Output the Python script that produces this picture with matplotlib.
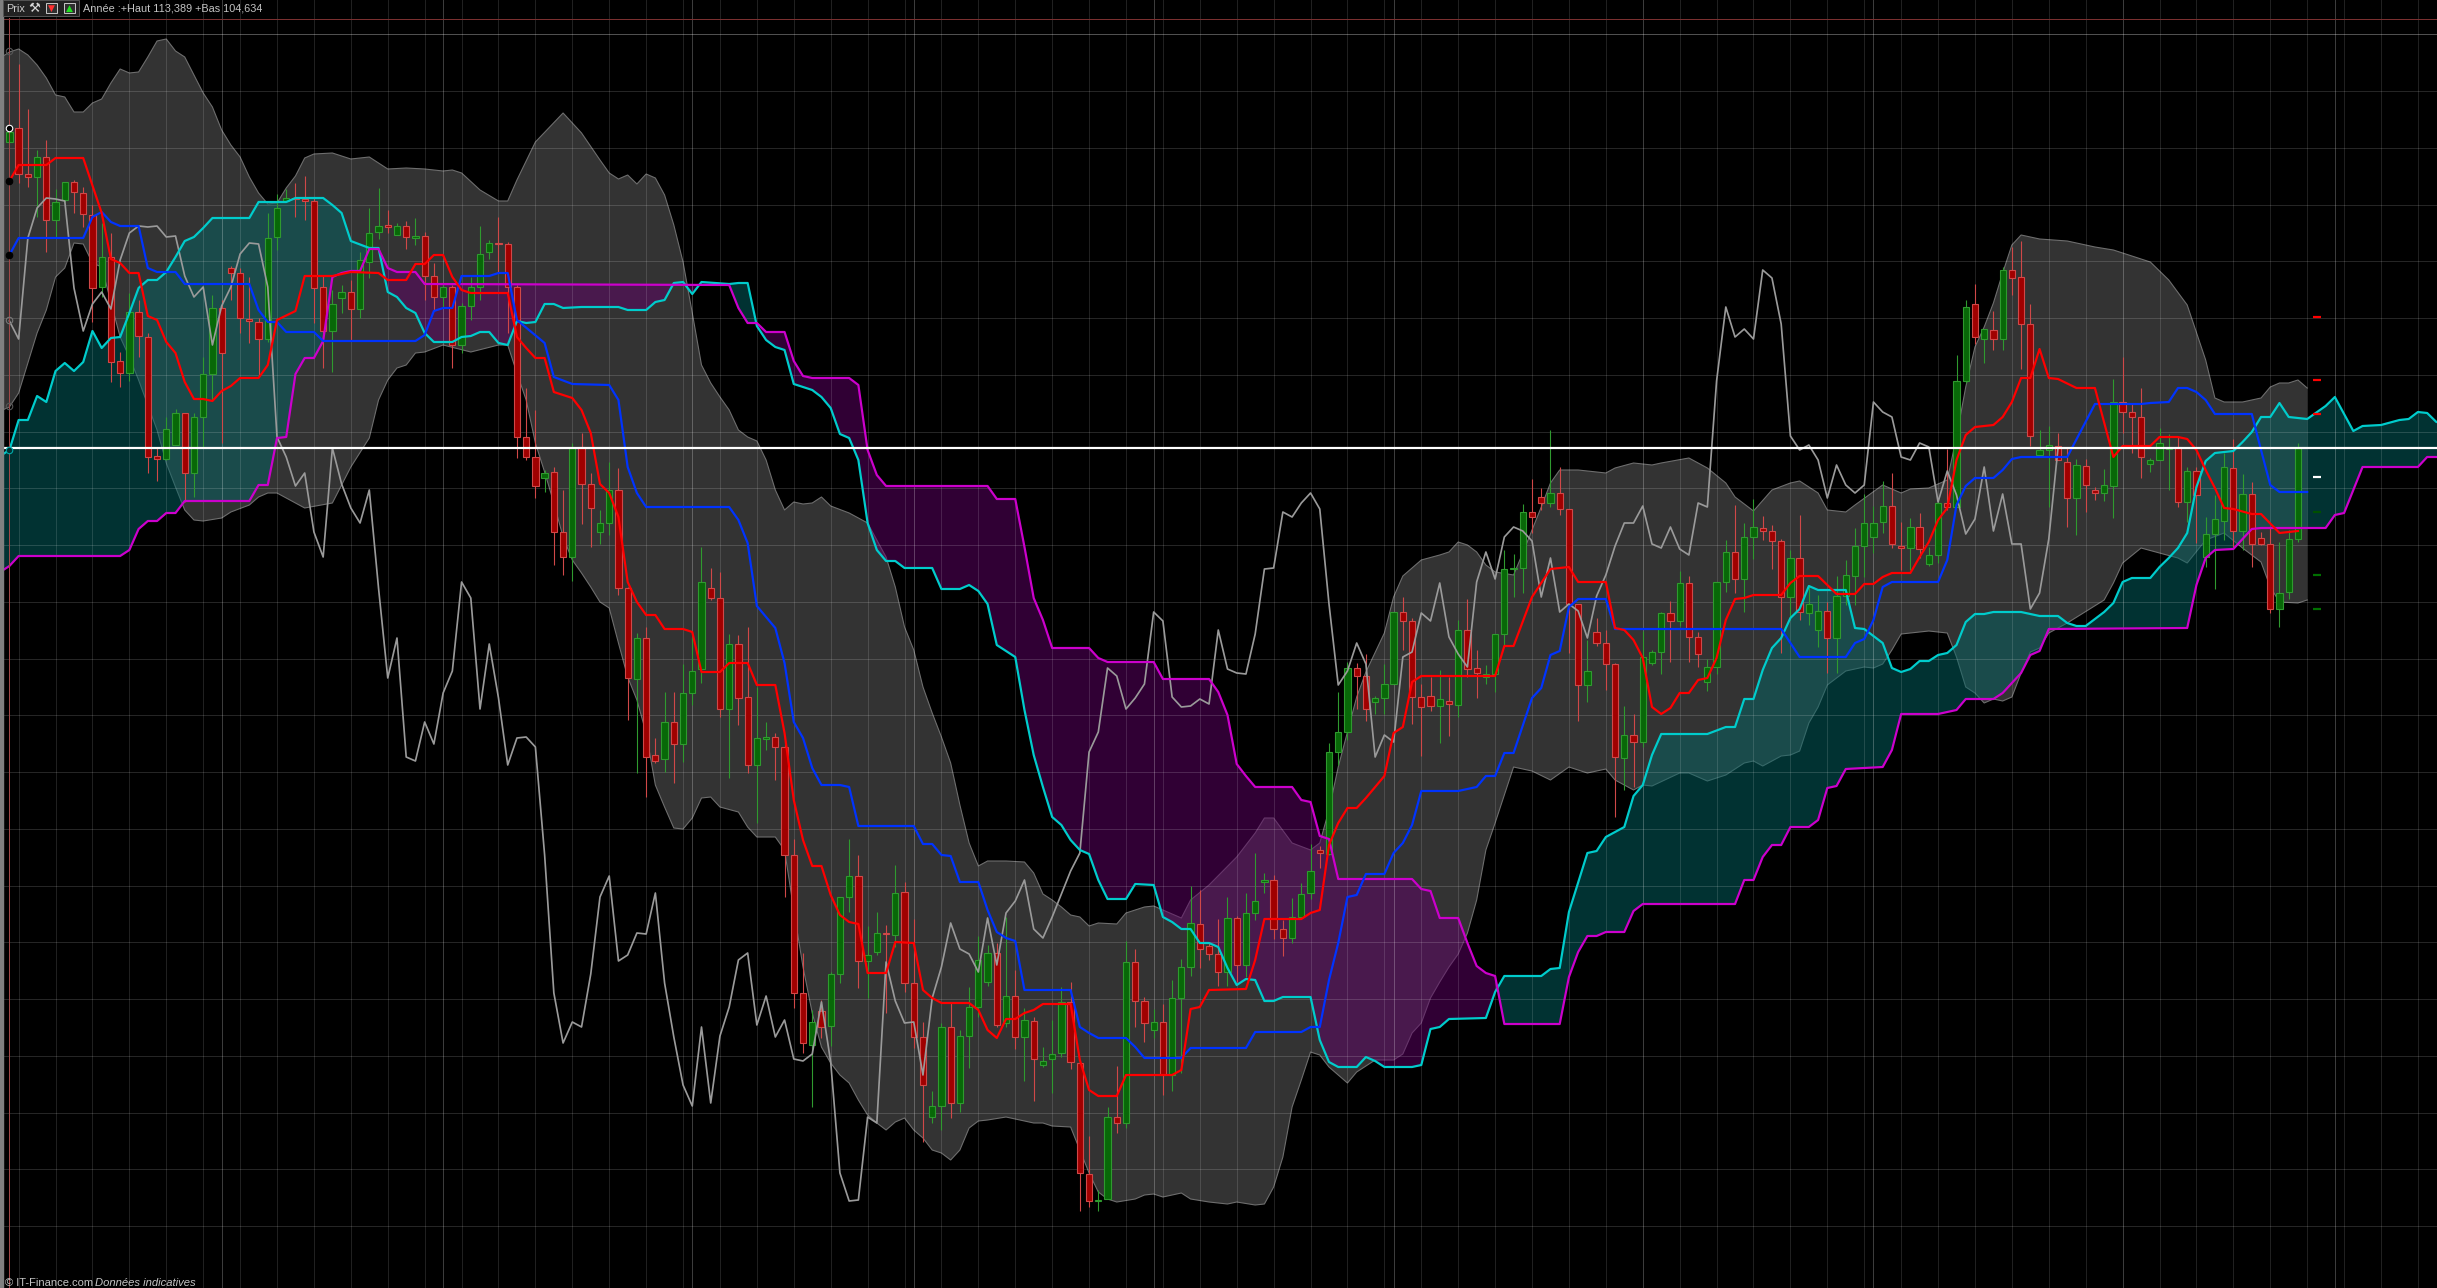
import numpy as np
import matplotlib
matplotlib.use("Agg")
import matplotlib.pyplot as plt
from matplotlib.patches import Rectangle

# All series are read in chart points below the scale ceiling; PTS_PER_UNIT converts them to price.
CEILING = 113.881
PTS_PER_UNIT = 131.0

open_pts = [142,128,174,177,157,220,200,182,193,215,
287,257,361,373,312,337,456,459,445,413,
473,417,374,308,268,273,319,322,339,237,
201,198,199,201,287,331,298,292,309,262,
232,225,235,226,238,236,276,297,287,345,
306,287,252,243,244,287,437,457,478,472,
532,557,447,484,532,523,490,588,679,638,
755,759,722,744,693,669,588,598,709,644,
697,765,739,737,747,855,993,1045,1011,1026,
974,897,876,961,952,933,935,892,983,1037,
1117,1106,1027,1103,1036,1007,982,953,1023,996,
1037,1021,1065,1059,1053,1002,1063,1174,1201,1199,
1117,1123,962,1001,1030,1022,1075,998,967,924,
946,954,972,918,965,913,882,880,929,938,
917,893,850,854,752,732,668,676,702,698,
684,612,621,697,696,706,701,705,630,668,
677,674,634,569,568,512,497,503,493,509,
604,685,632,643,664,758,735,742,663,652,
613,621,583,637,682,667,582,552,579,537,
528,531,541,597,558,613,630,611,638,596,
576,546,537,522,506,546,548,527,564,555,
503,507,381,304,339,330,339,270,277,324,
455,450,446,462,498,466,490,493,486,402,
412,417,464,460,449,447,502,471,557,534,
521,468,531,494,538,544,609,592,539]

close_pts = [132,174,177,157,220,202,182,192,214,288,
257,362,373,312,336,457,459,429,413,473,
417,374,308,353,273,318,321,339,238,208,
198,199,201,288,331,304,292,309,260,233,
226,227,226,237,236,276,297,287,345,306,
287,254,243,244,287,437,457,486,473,532,
557,448,484,508,523,490,588,678,638,757,
761,722,744,693,671,582,598,709,644,698,
765,738,737,747,855,993,1043,1022,1027,974,
897,876,961,955,933,934,893,983,1037,1085,
1106,1027,1103,1036,1007,960,953,1025,996,1037,
1020,1059,1061,1054,1002,1062,1173,1201,1200,1117,
1123,962,1001,1023,1022,1075,998,967,923,949,
954,972,918,965,913,901,880,929,938,917,
894,871,853,752,732,668,676,709,698,684,
612,621,697,707,706,699,704,630,669,673,
674,634,569,568,512,517,503,493,509,604,
685,671,643,664,757,735,742,657,652,613,
621,583,637,654,667,582,552,579,537,527,
531,541,597,558,612,604,611,638,596,575,
546,523,523,506,544,548,527,549,555,503,
507,381,307,337,329,339,270,278,324,436,
450,445,460,498,465,485,493,485,402,412,
417,457,460,443,447,502,471,495,534,519,
467,531,494,544,544,609,593,539,448]

high_pts = [128,64,109,150,140,189,182,180,187,205,
223,233,352,293,300,333,447,417,409,413,
413,357,295,300,266,268,277,318,213,194,
189,183,176,198,275,290,285,280,252,208,
188,210,223,221,218,232,263,283,285,303,
277,226,240,217,242,285,388,410,470,467,
490,443,433,473,510,462,468,587,633,627,
738,692,692,664,637,547,568,572,634,635,
627,687,722,733,740,839,953,1010,1000,972,
897,839,855,926,912,925,865,882,919,1022,
1091,1023,1003,1030,987,936,945,943,917,970,
1008,1017,1047,1020,987,982,1063,1136,1190,1107,
1066,941,949,997,1009,1004,980,959,886,890,
942,919,897,916,893,853,873,875,920,898,
883,844,846,743,692,662,663,654,696,664,
612,597,618,684,677,670,677,620,599,650,
665,634,550,554,504,479,488,430,467,509,
604,640,618,630,663,706,714,631,650,612,
601,571,576,632,659,582,540,505,523,499,
516,525,539,550,515,587,595,602,576,560,
528,494,506,481,473,522,518,513,547,500,
449,355,300,284,329,311,267,247,241,304,
430,426,433,447,459,459,487,469,379,357,
403,388,458,428,434,437,467,467,517,495,
453,439,474,482,532,528,542,530,443]

low_pts = [145,183,187,217,252,237,202,213,227,322,
297,382,387,381,357,473,481,460,445,502,
497,447,400,443,300,333,343,377,342,250,
201,217,220,323,368,372,313,340,318,278,
239,233,235,249,245,300,310,308,368,353,
320,300,259,273,333,458,460,498,492,565,
575,581,524,547,544,535,595,720,773,797,
763,772,783,762,705,683,600,717,778,725,
773,823,750,780,897,1008,1053,1107,1038,1046,
983,912,988,998,955,1013,947,992,1048,1142,
1123,1130,1118,1112,1068,1017,986,1027,1027,1049,
1081,1101,1067,1093,1057,1069,1211,1207,1211,1199,
1133,1128,1027,1042,1038,1095,1091,1073,976,968,
960,986,986,982,977,920,893,939,956,943,
918,899,868,855,765,740,709,721,714,714,
684,650,724,756,711,743,736,717,677,698,
684,692,647,597,593,533,510,507,515,653,
721,702,646,690,817,790,787,747,665,674,
662,626,662,667,691,674,592,593,612,559,
540,569,653,620,620,625,647,673,673,605,
605,577,553,533,548,570,570,558,566,563,
510,507,383,344,363,350,350,295,369,446,
455,507,460,527,535,512,500,501,518,433,
453,478,472,460,490,507,522,543,567,589,
540,547,550,567,545,613,627,599,542]

tenkan_i = [0,1,4,5,8,10,11,12,13,14,15,16,17,18,19,20,21,22,23,24,25,27,28,29,31,32,35,36,37,40,41,43,44,45,46,47,48,49,50,54,55,56,57,58,59,61,62,63,64,65,66,67,68,69,70,71,73,74,75,77,78,80,81,83,84,85,86,87,88,89,90,91,92,93,95,96,98,99,100,101,104,105,106,107,108,109,110,111,112,115,116,117,118,120,121,126,127,128,129,130,134,135,136,140,141,142,143,144,145,146,147,149,150,151,152,153,161,162,163,165,167,169,170,173,174,175,176,177,178,179,180,181,182,183,184,185,186,187,188,189,192,193,194,196,198,200,201,202,203,204,206,207,208,209,210,211,212,213,215,216,217,218,219,220,221,222,224,226,228,229,232,233,235,236,237,238,239,240,241,243,244,246,248]
tenkan_pts = [181,165,165,158,158,213,259,263,273,273,316,320,342,353,382,399,399,401,391,386,378,378,365,320,311,276,276,274,272,273,280,280,264,264,255,255,277,290,293,293,337,348,358,358,392,398,410,433,484,493,517,582,602,615,615,629,629,632,672,672,663,663,685,685,733,800,840,866,866,895,915,922,924,973,973,942,943,990,998,1003,1003,1010,1030,1038,1019,1019,1013,1010,1004,1004,1060,1090,1096,1096,1075,1075,1070,1009,1007,990,989,960,919,919,913,910,845,823,808,808,798,776,733,727,682,676,676,646,646,597,569,567,582,582,628,630,640,658,707,714,708,693,693,680,678,658,620,599,598,595,595,583,576,576,594,594,584,584,577,573,573,557,542,520,508,460,435,427,425,417,402,378,378,349,378,379,388,388,457,446,446,437,437,439,450,470,488,508,509,514,514,533,531]

kijun_i = [0,1,8,9,10,11,12,14,15,16,18,19,26,27,28,29,30,33,34,44,45,46,47,48,49,52,53,54,55,58,59,61,65,66,67,68,69,78,79,80,81,83,84,85,86,87,88,90,91,92,98,99,100,101,102,103,105,106,107,108,109,110,115,116,117,118,121,122,123,127,128,134,135,140,141,142,143,144,145,146,147,149,150,151,152,153,157,159,160,161,162,163,165,166,167,168,169,170,173,174,192,194,199,200,201,202,203,204,209,210,211,212,213,215,216,217,218,223,226,231,232,234,235,236,237,238,239,243,244,245,246,249]
kijun_pts = [255,238,238,217,212,222,226,226,268,272,272,284,284,310,322,322,332,332,341,341,335,311,308,308,276,276,273,273,320,343,377,384,385,400,467,493,507,507,520,543,606,628,663,722,738,768,785,785,787,826,826,844,844,855,856,882,882,910,932,938,941,990,990,1027,1033,1038,1038,1047,1058,1058,1048,1048,1032,1032,1027,1027,980,943,897,895,874,874,853,843,825,791,791,787,776,776,753,753,698,688,655,651,607,599,599,629,629,657,657,643,639,620,587,582,582,560,505,486,478,478,470,459,457,457,404,404,403,402,388,388,392,400,414,414,450,485,492,492]

ssa_i = [-1,0,1,2,3,4,5,6,7,8,9,10,11,12,13,14,15,16,17,18,19,20,21,22,26,27,30,31,34,35,36,37,39,40,41,42,43,44,45,46,48,49,50,51,52,53,54,55,56,57,58,59,60,62,66,67,69,70,71,72,73,74,75,78,79,80,81,82,83,84,85,87,88,89,90,91,92,93,94,95,96,97,100,101,103,104,105,106,107,109,110,111,112,113,114,115,116,117,118,119,121,122,124,125,126,127,128,129,130,131,132,133,134,135,136,137,138,141,142,143,144,146,147,148,149,152,153,154,155,156,160,161,162,166,167,168,169,171,172,173,175,176,177,178,179,184,186,187,188,189,190,191,192,193,194,195,196,199,200,201,203,204,205,206,207,208,209,210,211,212,213,214,215,218,220,222,223,224,225,227,228,229,230,232,233,234,235,236,237,238,239,241,242,243,244,245,246,247,249,251,252,254,255,257,259,260,261,262,263,264]
ssa_pts = [456,450,420,420,396,402,371,363,371,362,331,348,338,337,313,288,280,280,272,257,241,237,228,218,218,202,202,198,198,205,213,241,248,248,292,297,308,313,333,342,342,337,336,332,332,343,345,321,323,322,304,304,308,307,307,310,310,302,300,283,282,294,282,284,283,283,326,340,347,350,384,390,397,408,434,438,460,523,550,561,561,568,568,589,589,585,591,604,645,657,710,755,787,817,825,840,850,854,880,899,899,884,885,917,922,929,929,943,943,947,968,985,979,980,1001,1001,997,997,1040,1062,1067,1067,1057,1061,1067,1067,1065,1029,1027,1019,1018,992,976,976,969,968,912,853,851,837,827,796,785,755,734,734,727,727,699,699,670,648,638,618,609,586,590,590,628,629,643,668,672,669,661,661,655,653,645,622,614,614,612,612,616,616,623,626,626,612,603,582,578,578,567,558,548,533,487,461,453,451,442,432,417,417,403,417,419,406,397,431,426,425,420,419,412,413,422,422]

ssb_i = [-1,0,1,12,13,14,15,16,17,18,19,26,27,28,29,30,31,32,33,34,35,36,37,38,39,40,41,42,44,45,78,79,80,81,82,84,85,86,87,91,92,93,94,95,106,107,109,110,111,112,113,117,118,119,124,125,130,131,132,133,134,135,139,140,141,142,143,144,152,153,154,155,157,158,159,160,161,162,168,169,170,171,172,173,175,176,177,187,188,189,190,191,192,193,195,196,197,198,199,203,204,205,209,210,211,212,215,216,217,218,219,220,221,236,237,238,239,241,243,244,251,252,253,255,261,262,264]
ssb_pts = [572,566,556,556,550,529,521,521,513,513,501,501,485,485,438,437,374,358,358,341,277,273,271,271,249,249,268,272,272,284,285,308,323,323,332,332,361,376,378,378,385,450,475,486,486,499,499,547,598,620,648,648,658,662,662,679,679,692,715,764,776,787,787,800,802,836,839,879,879,889,891,918,918,943,966,973,976,1024,1024,977,952,936,936,932,932,911,904,904,880,880,857,845,845,827,827,820,788,786,769,767,750,714,714,712,710,699,699,693,683,673,655,651,629,628,585,558,550,549,529,528,528,515,513,467,467,457,457]

band_up_i = [-1,0,1,2,3,4,5,6,7,8,9,10,11,12,13,14,15,16,17,18,19,20,21,22,23,24,25,26,27,28,29,30,31,32,33,35,37,39,41,43,45,47,48,49,51,53,54,55,57,60,62,64,65,66,67,68,69,70,71,72,73,74,75,76,77,78,79,80,81,82,83,84,85,86,87,88,89,91,93,95,96,97,98,99,100,101,102,103,104,105,106,108,110,111,112,113,114,115,116,117,118,120,121,123,124,125,127,128,130,133,135,136,137,139,141,142,143,144,146,147,149,150,151,153,155,156,157,158,159,160,161,163,164,165,166,167,168,170,173,174,176,178,179,182,184,186,187,189,191,193,194,196,197,199,200,203,205,206,208,210,211,212,213,214,215,216,217,218,220,223,226,228,230,232,234,236,238,239,240,242,244,245,246,247,248,249]
band_up_pts = [58,52,49,55,65,78,95,97,112,112,103,99,83,69,73,72,57,41,39,51,57,75,93,107,130,145,157,177,193,204,203,188,176,158,154,153,159,157,169,168,169,171,170,173,190,201,201,180,142,113,133,160,173,179,175,184,174,178,195,225,262,313,365,383,397,410,430,437,441,460,490,510,502,504,503,497,506,513,523,557,587,627,650,687,713,737,763,805,843,866,861,861,862,873,894,900,907,915,917,926,923,924,913,907,906,910,918,900,885,857,833,818,818,843,850,843,810,767,697,672,633,597,576,560,555,552,542,545,552,565,572,575,553,530,507,483,470,470,473,468,463,465,463,458,468,483,497,511,490,483,481,493,510,512,505,485,493,489,488,480,437,387,347,327,303,273,245,235,239,241,247,250,256,262,280,305,360,398,402,402,398,387,383,383,380,388]

band_lo_i = [-1,0,1,2,3,4,5,6,7,8,9,10,12,13,14,16,17,18,19,20,21,23,24,26,27,28,29,30,32,35,36,37,39,40,41,42,43,44,45,47,50,53,54,55,56,57,58,59,60,61,62,63,64,65,66,67,68,69,70,71,72,73,74,75,76,77,79,80,81,83,84,85,86,87,88,89,90,91,92,93,94,95,96,97,98,99,100,101,102,103,104,105,106,108,110,111,112,113,115,116,117,118,119,120,122,123,124,125,127,128,130,132,133,135,136,137,138,139,140,141,142,143,144,145,146,148,150,151,152,153,154,155,156,157,158,159,160,161,162,163,165,167,169,171,173,174,176,177,178,181,182,184,186,188,189,190,192,193,194,195,196,197,198,199,201,202,203,204,205,207,208,210,211,212,213,214,215,216,217,218,219,220,221,222,223,227,228,229,231,233,235,236,238,240,242,244,245,246,248,249]
band_lo_pts = [411,407,393,363,333,310,277,268,243,244,263,267,337,357,380,430,463,487,510,520,521,518,512,505,497,493,493,498,508,503,485,467,438,400,380,368,365,353,352,345,352,345,345,373,400,443,472,503,537,560,573,587,602,608,643,677,700,733,785,807,828,829,818,798,797,807,812,827,837,837,850,910,967,1013,1047,1063,1075,1083,1100,1115,1123,1130,1122,1118,1130,1138,1150,1153,1160,1150,1128,1121,1120,1117,1121,1123,1123,1126,1127,1150,1173,1192,1199,1202,1199,1195,1194,1197,1193,1199,1202,1204,1202,1205,1204,1187,1157,1107,1080,1052,1055,1067,1075,1083,1072,1060,1060,1054,1033,1023,998,982,967,954,933,900,850,823,795,767,771,780,767,773,769,780,790,785,786,773,773,781,775,763,761,766,756,755,751,723,707,685,678,671,667,668,664,650,634,632,631,633,657,687,693,703,699,701,697,673,652,648,633,628,623,600,583,563,548,553,558,563,540,533,548,562,587,602,603,600]

pivot_red_pts = [317, 380, 414]
pivot_white_pts = [477]
pivot_green_pts = [575, 609]
pivot_faint_pts = [512]
last_level_pts = 448

grid_h_pts = [34.3 + 56.75 * k for k in range(22)]
month_i = [23, 47, 74, 98, 124, 150, 177, 202, 229, 252]
grid_v_i = [i for i in range(1, 268, 4) if i not in month_i]
cursor_pts = [51, 128, 181, 255, 320, 406, 450]
cursor_edge = ['#555555', '#ffffff', '#000000', '#000000', '#777777', '#555555', '#00aaaa']
cursor_face = ['none', 'black', 'black', 'black', 'none', 'none', '#003333']

def price(a):
    return CEILING - np.asarray(a, dtype=float) / PTS_PER_UNIT

W, H = 2437, 1288
fig = plt.figure(figsize=(W / 100, H / 100), dpi=100, facecolor='black')
ax = fig.add_axes([0, 0, 1, 1], facecolor='black')
BAR = 9.228
X0 = 9.4
ax.set_xlim(-X0 / BAR, (W - X0) / BAR)
ax.set_ylim(price(H), price(0))
ax.axis('off')
px = 0.72

# Bollinger-like band
bx = np.r_[band_up_i, band_lo_i[::-1]]
by = np.r_[price(band_up_pts), price(band_lo_pts[::-1])]
ax.fill(bx, by, facecolor='#333333', edgecolor='none', zorder=1)
ax.plot(band_up_i, price(band_up_pts), color='#6e6e6e', lw=1.1 * px, zorder=1.2)
ax.plot(band_lo_i, price(band_lo_pts), color='#6e6e6e', lw=1.1 * px, zorder=1.2)

# Cloud
fine = np.arange(-1, 264.5, 0.05)
a = np.interp(fine, ssa_i, price(ssa_pts))
b = np.interp(fine, ssb_i, price(ssb_pts))
ax.fill_between(fine, a, b, where=a >= b, color='#026464', alpha=0.5, lw=0, zorder=2)
ax.fill_between(fine, a, b, where=a < b, color='#600068', alpha=0.5, lw=0, zorder=2)

# Grid
for y in grid_h_pts:
    ax.axhline(price(y), color='#ffffff', alpha=0.15, lw=1.0 * px, zorder=3)
for i in grid_v_i:
    ax.axvline(i, color='#ffffff', alpha=0.13, lw=1.0 * px, zorder=3)
for i in month_i:
    ax.axvline(i, color='#ffffff', alpha=0.24, lw=1.0 * px, zorder=3)
ax.axhline(price(34.3), color='#ffffff', alpha=0.2, lw=1.0 * px, zorder=3)

# Candles
o, h, l, c = map(price, (open_pts, high_pts, low_pts, close_pts))
GW, GF, RW, RF = '#2f9a2f', '#086808', '#d04848', '#a00000'
for i in range(len(o)):
    up = c[i] >= o[i]
    ax.plot([i, i], [l[i], h[i]], color=GW if up else RW, lw=1.1 * px, zorder=4, solid_capstyle='butt')
    ax.add_patch(Rectangle((i - 0.34, min(o[i], c[i])), 0.68, abs(c[i] - o[i]),
                           facecolor=GF if up else RF, edgecolor=GW if up else RW,
                           lw=1.1 * px, zorder=4.1))

# Lines
chikou = c[26:]
ax.plot(np.arange(len(chikou)), chikou, color='#9a9a9a', lw=1.7 * px, zorder=5)
ax.plot(ssa_i, price(ssa_pts), color='#00cccc', lw=2.2 * px, zorder=5.2)
ax.plot(ssb_i, price(ssb_pts), color='#cc00cc', lw=2.2 * px, zorder=5.3)
ax.plot(kijun_i, price(kijun_pts), color='#0033ff', lw=2.2 * px, zorder=5.4)
ax.plot(tenkan_i, price(tenkan_pts), color='#ff0000', lw=2.2 * px, zorder=5.5)

# Last-price line and right-hand pivot marks
ax.axhline(price(last_level_pts), color='white', lw=2.2 * px, zorder=6)
for vals, col in ((pivot_red_pts, '#ff0000'), (pivot_white_pts, '#ffffff'),
                  (pivot_green_pts, '#007000'), (pivot_faint_pts, '#005000')):
    ax.hlines(price(vals), 249.6, 250.55, color=col, lw=2.2 * px, zorder=6)

# Cursor
ax.axvline(0, color='#a04848', lw=1.0 * px, ymax=(H - 18) / H, zorder=6)
ax.axhline(price(18.5), color='#7a3030', lw=1.0 * px, zorder=6)
for y, ec, fc in zip(cursor_pts, cursor_edge, cursor_face):
    ax.plot([0], [price(y)], 'o', ms=6.5 * px, mec=ec, mfc=fc, mew=0.8, zorder=7)

# Chrome
fig.add_artist(Rectangle((0, 0), 3 / W, 1, transform=fig.transFigure, color='#808080', zorder=8))
fig.add_artist(Rectangle((3 / W, 1 - 16 / H), 76 / W, 16 / H, transform=fig.transFigure,
                         facecolor='#222222', edgecolor='#555555', lw=0.7, zorder=8))
for x0, col, sym in ((46, '#ff3030', '\u25bc'), (64, '#20e020', '\u25b2')):
    fig.add_artist(Rectangle((x0 / W, 1 - 13 / H), 11 / W, 10 / H, transform=fig.transFigure,
                             facecolor='#303030', edgecolor='#c8c8c8', lw=0.7, zorder=9))
    fig.text((x0 + 5.5) / W, 1 - 8 / H, sym, color=col, fontsize=6.5, family=['DejaVu Sans'],
             ha='center', va='center', zorder=10)
FONT = ['Liberation Sans', 'DejaVu Sans']
fig.text(6.5 / W, 1 - 8.5 / H, 'Prix', color='#cccccc', fontsize=7.8, family=FONT, va='center', zorder=9)
fig.text(28 / W, 1 - 8 / H, '\u2692', color='#d8d8d8', fontsize=9.5, family=['DejaVu Sans'], va='center', zorder=9)
fig.text(83 / W, 1 - 8.5 / H, 'Ann\u00e9e :+Haut 113,389 +Bas 104,634', color='#c4c4c4',
         fontsize=7.8, family=FONT, va='center', zorder=9)
fig.text(5 / W, 1 - 1283 / H, '\u00a9 IT-Finance.com', color='#c4c4c4', fontsize=8.0,
         family=FONT, va='center', zorder=9)
fig.text(95 / W, 1 - 1283 / H, 'Donn\u00e9es indicatives', color='#c4c4c4', fontsize=8.1,
         family=FONT, style='italic', va='center', zorder=9)

fig.savefig('out.png', dpi=100, facecolor='black')
